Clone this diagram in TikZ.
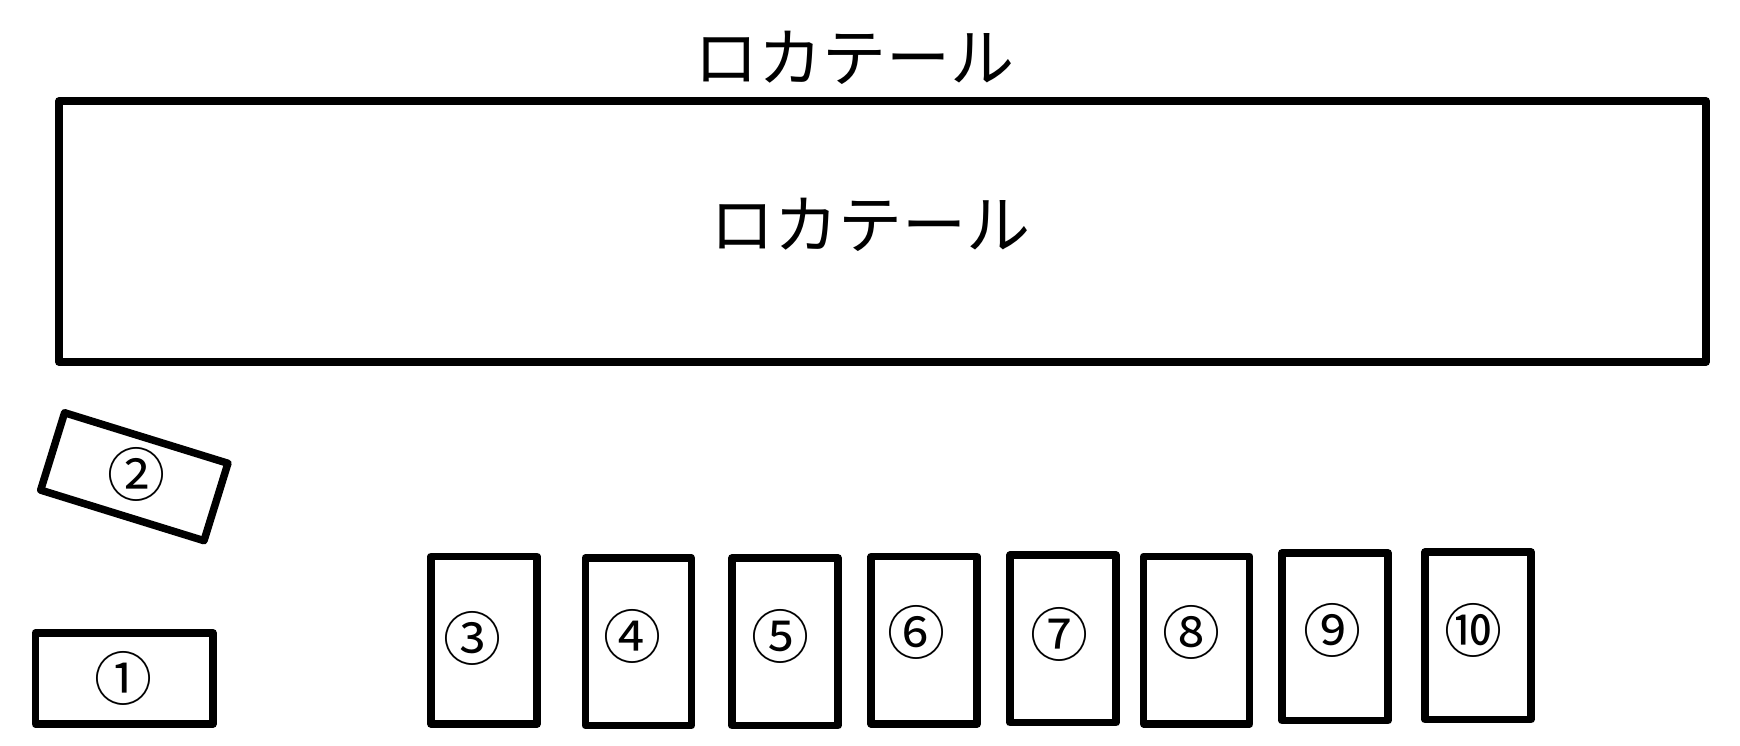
\documentclass[tikz,border=0pt]{standalone}
\usepackage{fontspec}
\setmainfont{Noto Sans CJK JP}
\begin{document}
\begin{tikzpicture}[x=1pt,y=-1pt,
  frame/.style={draw, line width=7.5pt, line join=round, inner sep=0pt},
  slot/.style={frame, minimum width=106pt, minimum height=167.5pt},
  num/.style={font=\fontsize{58}{60}\selectfont, inner sep=0pt},
  title/.style={font=\fontsize{64}{70}\selectfont, inner sep=0pt}]
\useasboundingbox (0,0) rectangle (1740,745);
% large counter
\node[frame, minimum width=1647pt, minimum height=261pt] (counter) at (882.5,231.5) {};
\node[title] (counterlabel) at (870,225) {ロカテール};
\node[title] (heading) at (854,58) {ロカテール};
% table 1
\node[frame, minimum width=177.5pt, minimum height=91.3pt] (t1) at (124.2,678.4) {};
\node[num] (n1) at (123.3,678.3) {①};
% table 2 (rotated)
\node[frame, minimum width=171pt, minimum height=81pt, rotate=-17.2] (t2) at (134.3,476.7) {};
\node[num] (n2) at (136.7,474) {②};
% tables 3-10
\node[slot] (t3) at (484,640.2) {};
\node[num] (n3) at (472.7,638.3) {③};
\node[slot] (t4) at (638.3,641.7) {};
\node[num] (n4) at (632.7,636.7) {④};
\node[slot] (t5) at (785,641.7) {};
\node[num] (n5) at (780,636.7) {⑤};
\node[slot] (t6) at (924.2,640.2) {};
\node[num] (n6) at (916.7,632.7) {⑥};
\node[slot] (t7) at (1063,638.9) {};
\node[num] (n7) at (1059.3,634) {⑦};
\node[slot] (t8) at (1196.7,640.2) {};
\node[num] (n8) at (1191.7,632.7) {⑧};
\node[slot] (t9) at (1335,636.8) {};
\node[num] (n9) at (1332.7,630) {⑨};
\node[slot] (t10) at (1478,635.8) {};
\node[num] (n10) at (1473.3,630) {⑩};
\end{tikzpicture}
\end{document}
